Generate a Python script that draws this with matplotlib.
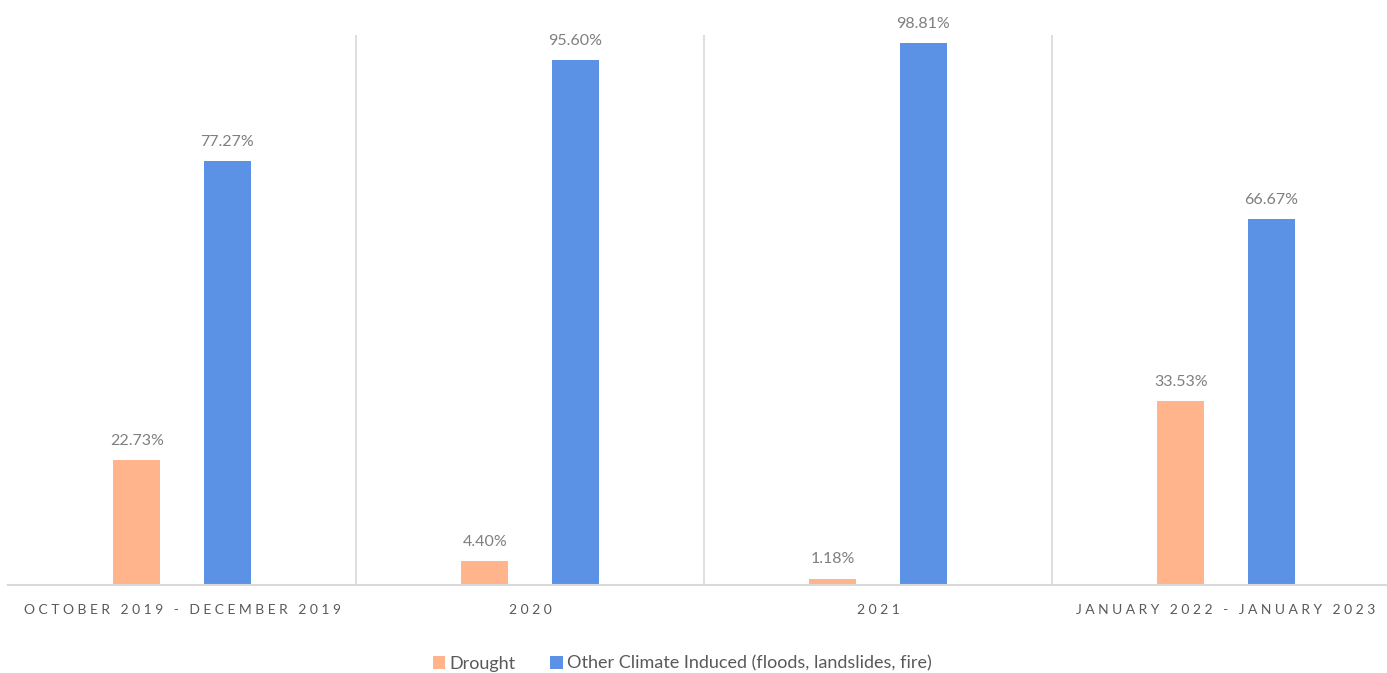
import matplotlib.pyplot as plt
import numpy as np

plt.rcParams['font.family'] = ['Lato', 'DejaVu Sans']

periods = ['October 2019 - December 2019', '2020', '2021', 'January 2022 - January 2023']
drought = [22.73, 4.40, 1.18, 33.53]
other = [77.27, 95.60, 98.81, 66.67]

c_drought = '#FFB48C'
c_other = '#5B92E5'
grid_c = '#D9D9D9'


def spaced(s):
    # fake letter spacing for the category labels
    return ' '.join(s.upper())


fig = plt.figure(figsize=(13.87, 6.73), dpi=100)
ax = fig.add_axes([8 / 1387, 88 / 673, 1392 / 1387, 550 / 673])

x = np.arange(len(periods))
w = 0.135
off = 0.13
b1 = ax.bar(x - off, drought, w, color=c_drought, label='Drought', zorder=2)
b2 = ax.bar(x + off, other, w, color=c_other,
            label='Other Climate Induced (floods, landslides, fire)', zorder=2)

for bars, vals in [(b1, drought), (b2, other)]:
    for r, v in zip(bars, vals):
        ax.text(r.get_x() + r.get_width() / 2, v + 2.2, f'{v:.2f}%',
                ha='center', va='bottom', fontsize=11.5, color='#7F7F7F')

ax.set_xlim(-0.5, len(periods) - 0.5)
ax.set_ylim(0, 100.2)

# separators between groups
for s in x[:-1] + 0.5:
    ax.axvline(s, color=grid_c, lw=1.2, zorder=1)

for side in ['top', 'right', 'left']:
    ax.spines[side].set_visible(False)
ax.spines['bottom'].set_color(grid_c)
ax.spines['bottom'].set_linewidth(1.5)
ax.set_yticks([])
ax.set_xticks(x)
ax.set_xticklabels([spaced(p) for p in periods], fontsize=10, color='#595959')
ax.tick_params(axis='x', length=0, pad=14)

leg = fig.legend(loc='lower center', bbox_to_anchor=(0.492, -0.022), ncol=2,
                 frameon=False, fontsize=13, handlelength=0.7, handleheight=0.7,
                 handletextpad=0.25, columnspacing=1.9)
for t in leg.get_texts():
    t.set_color('#595959')

fig.savefig('out.png', dpi=100)
